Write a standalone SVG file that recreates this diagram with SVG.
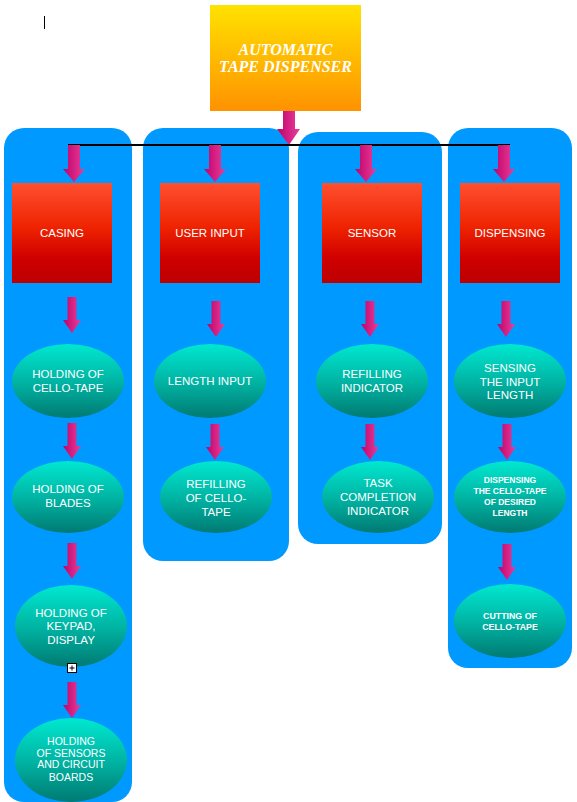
<svg xmlns="http://www.w3.org/2000/svg" width="577" height="802" viewBox="0 0 577 802">
<style>
.lane{fill:#0099FF}
.box{fill:url(#gRed)}
.ell{fill:url(#gTeal)}
.arr{fill:url(#gArr)}
.t{font-family:"Liberation Sans",Arial,sans-serif;font-size:11.5px;fill:#fff;text-anchor:middle}
.tb{font-family:"Liberation Sans",Arial,sans-serif;font-weight:bold;fill:#fff;text-anchor:middle}
.title{font-family:"Liberation Serif","Times New Roman",serif;font-weight:bold;font-style:italic;font-size:16px;fill:#fff;text-anchor:middle}
</style>
<defs>
<linearGradient id="gTitle" x1="0" y1="0" x2="0" y2="1"><stop offset="0" stop-color="#FFE200"/><stop offset="1" stop-color="#FF9200"/></linearGradient>
<linearGradient id="gRed" x1="0" y1="0" x2="0" y2="1"><stop offset="0" stop-color="#FF5030"/><stop offset="0.45" stop-color="#EE2200"/><stop offset="0.75" stop-color="#D00000"/><stop offset="1" stop-color="#BB0000"/></linearGradient>
<linearGradient id="gTeal" x1="0" y1="0" x2="0" y2="1"><stop offset="0" stop-color="#00E8D0"/><stop offset="0.55" stop-color="#00B0A0"/><stop offset="1" stop-color="#007A72"/></linearGradient>
<linearGradient id="gArr" x1="0" y1="0" x2="1" y2="0"><stop offset="0" stop-color="#C0006A"/><stop offset="1" stop-color="#E8409A"/></linearGradient>
<path id="big" class="arr" d="M-6,0H6V24H11L0,37L-11,24H-6Z"/>
<path id="sm" class="arr" d="M-4.5,0H4.5V23H9L0,36L-9,23H-4.5Z"/>
</defs>
<rect width="577" height="802" fill="#fff"/>
<line x1="44.5" y1="16" x2="44.5" y2="29" stroke="#000" stroke-width="1"/>

<g id="lanes">
<rect class="lane" x="4" y="128" width="128" height="674" rx="20"/>
<rect class="lane" x="143" y="128" width="146" height="433" rx="20"/>
<rect class="lane" x="298" y="132" width="144" height="412" rx="20"/>
<rect class="lane" x="448" y="128" width="124" height="540" rx="20"/>
</g>

<g id="title">
<rect x="210" y="5" width="151" height="106" fill="url(#gTitle)"/>
<text class="title" x="285.5" y="55">AUTOMATIC</text>
<text class="title" x="285.5" y="72">TAPE DISPENSER</text>
</g>

<g id="connectors">
<path class="arr" d="M283,111H295V129H300L289,145L277,129H283Z"/>
<line x1="68" y1="145" x2="510" y2="145" stroke="#000" stroke-width="2"/>
<use href="#big" x="74" y="145"/>
<use href="#big" x="215" y="145"/>
<use href="#big" x="366" y="145"/>
<use href="#big" x="504" y="145"/>
<use href="#sm" x="72" y="297"/>
<use href="#sm" x="72" y="423"/>
<use href="#sm" x="72" y="543"/>
<use href="#sm" x="72" y="682"/>
<use href="#sm" x="216" y="301"/>
<use href="#sm" x="215" y="424"/>
<use href="#sm" x="370" y="301"/>
<use href="#sm" x="370" y="424"/>
<use href="#sm" x="506" y="301"/>
<use href="#sm" x="507" y="424"/>
<use href="#sm" x="507" y="544"/>
</g>

<g id="casing"><rect class="box" x="12" y="183" width="100" height="100"/><text class="t" x="62" y="236.5">CASING</text></g>
<g id="user-input"><rect class="box" x="160" y="183" width="100" height="100"/><text class="t" x="210" y="236.5">USER INPUT</text></g>
<g id="sensor"><rect class="box" x="322" y="183" width="100" height="100"/><text class="t" x="372" y="236.5">SENSOR</text></g>
<g id="dispensing"><rect class="box" x="460" y="183" width="100" height="100"/><text class="t" x="510" y="236.5">DISPENSING</text></g>

<g id="holding-cello-tape"><ellipse class="ell" cx="68" cy="381" rx="56" ry="37"/><text class="t" x="68" y="378">HOLDING OF</text><text class="t" x="68" y="392">CELLO-TAPE</text></g>
<g id="holding-blades"><ellipse class="ell" cx="68" cy="497" rx="56" ry="36"/><text class="t" x="68" y="493">HOLDING OF</text><text class="t" x="68" y="507">BLADES</text></g>
<g id="holding-keypad"><ellipse class="ell" cx="71" cy="626" rx="56" ry="41"/><text class="t" x="71" y="617">HOLDING OF</text><text class="t" x="71" y="630">KEYPAD,</text><text class="t" x="71" y="644">DISPLAY</text></g>
<g id="expand-icon"><rect x="67.5" y="663.5" width="9" height="9" fill="#fff" stroke="#000" stroke-width="1"/><path d="M69.5,668H74.5M72,665.5V670.5" stroke="#000" stroke-width="1"/></g>
<g id="holding-sensors"><ellipse class="ell" cx="71" cy="760" rx="56" ry="42"/>
<text class="t" style="font-size:10.5px" x="71" y="745">HOLDING</text><text class="t" style="font-size:10.5px" x="71" y="757">OF SENSORS</text><text class="t" style="font-size:10.5px" x="71" y="768">AND CIRCUIT</text><text class="t" style="font-size:10.5px" x="71" y="781">BOARDS</text></g>

<g id="length-input"><ellipse class="ell" cx="210" cy="381" rx="56" ry="37"/><text class="t" x="210" y="385">LENGTH INPUT</text></g>
<g id="refilling-cello-tape"><ellipse class="ell" cx="216" cy="497" rx="56" ry="36"/><text class="t" x="216" y="488">REFILLING</text><text class="t" x="216" y="502">OF CELLO-</text><text class="t" x="216" y="516">TAPE</text></g>

<g id="refilling-indicator"><ellipse class="ell" cx="372" cy="381" rx="56" ry="37"/><text class="t" x="372" y="378">REFILLING</text><text class="t" x="372" y="392">INDICATOR</text></g>
<g id="task-completion"><ellipse class="ell" cx="378" cy="497" rx="56" ry="36"/><text class="t" x="378" y="487">TASK</text><text class="t" x="378" y="501">COMPLETION</text><text class="t" x="378" y="515">INDICATOR</text></g>

<g id="sensing-input-length"><ellipse class="ell" cx="510" cy="381" rx="56" ry="37"/><text class="t" x="510" y="372">SENSING</text><text class="t" x="510" y="386">THE INPUT</text><text class="t" x="510" y="399">LENGTH</text></g>
<g id="dispensing-cello-tape"><ellipse class="ell" cx="510" cy="497" rx="56" ry="36"/>
<text class="tb" style="font-size:8.5px" x="510" y="483">DISPENSING</text><text class="tb" style="font-size:8.5px" x="510" y="494">THE CELLO-TAPE</text><text class="tb" style="font-size:8.5px" x="510" y="505">OF DESIRED</text><text class="tb" style="font-size:8.5px" x="510" y="516">LENGTH</text></g>
<g id="cutting-cello-tape"><ellipse class="ell" cx="510" cy="621" rx="56" ry="37"/><text class="tb" style="font-size:8.8px" x="510" y="619">CUTTING OF</text><text class="tb" style="font-size:8.8px" x="510" y="630">CELLO-TAPE</text></g>
</svg>
